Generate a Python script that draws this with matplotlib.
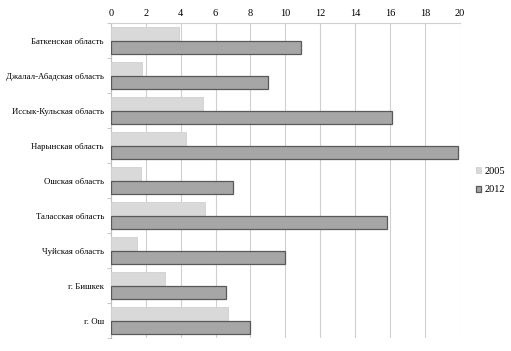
import numpy as np
import matplotlib
matplotlib.use("Agg")
import matplotlib.pyplot as plt

plt.rcParams['font.family'] = ['Liberation Serif', 'DejaVu Serif']

# Регионы и значения
regions = [
    "Баткенская область",
    "Джалал-Абадская область",
    "Иссык-Кульская область",
    "Нарынская область",
    "Ошская область",
    "Таласская область",
    "Чуйская область",
    "г. Бишкек",
    "г. Ош",
]
values_2005 = [3.9, 1.8, 5.3, 4.3, 1.7, 5.4, 1.5, 3.1, 6.7]
values_2012 = [10.9, 9.0, 16.1, 19.9, 7.0, 15.8, 10.0, 6.6, 8.0]
x_ticks = [0, 2, 4, 6, 8, 10, 12, 14, 16, 18, 20]

fig = plt.figure(figsize=(5.11, 3.51), dpi=100)
ax = fig.add_axes([0.217, 0.037, 0.683, 0.897])

y = np.arange(len(regions))
h = 0.38
ax.barh(y - h / 2, values_2005, height=h, color='#d9d9d9', edgecolor='#d0d0d0',
        linewidth=0.6, label='2005', zorder=3)
ax.barh(y + h / 2, values_2012, height=h, color='#a6a6a6', edgecolor='#595959',
        linewidth=0.9, label='2012', zorder=3)

ax.set_ylim(len(regions) - 0.5, -0.5)
ax.set_xlim(0, 20)
ax.set_xticks(x_ticks)
ax.xaxis.tick_top()
ax.tick_params(axis='x', length=0, labelsize=7.5, pad=4)
ax.set_yticks(y)
ax.set_yticklabels(regions, fontsize=6.3)
ax.tick_params(axis='y', length=0, pad=5)
ax.set_yticks(np.arange(-0.5, len(regions) + 0.5, 1), minor=True)
ax.tick_params(axis='y', which='minor', length=3, color='#bfbfbf', direction='out')
ax.grid(axis='x', color='#d0d0d0', linewidth=0.8, zorder=0)

for s in ['right', 'bottom']:
    ax.spines[s].set_visible(False)
ax.spines['left'].set_color('#bfbfbf')
ax.spines['top'].set_color('#d0d0d0')

ax.legend(loc='center left', bbox_to_anchor=(1.02, 0.5), frameon=False,
          fontsize=7.5, handlelength=0.5, handleheight=0.5, handletextpad=0.3,
          labelspacing=0.9)

fig.savefig('out.png', dpi=100)
